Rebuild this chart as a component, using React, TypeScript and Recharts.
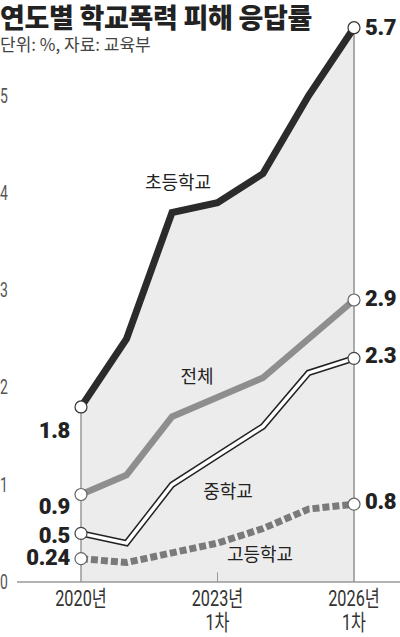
import React from 'react';
import { ComposedChart, Line, Area, XAxis, YAxis, ReferenceLine } from 'recharts';

const years = ['2020', '2021', '2022', '2023', '2024', '2025', '2026'];
const xTickLabels = ['2020년', '', '', '2023년|1차', '', '', '2026년|1차'];
const elementary = [1.8, 2.5, 3.8, 3.9, 4.2, 5.0, 5.7];
const overall = [0.9, 1.1, 1.7, 1.9, 2.1, 2.5, 2.9];
const middle = [0.5, 0.4, 1.0, 1.3, 1.6, 2.15, 2.3];
const high = [0.24, 0.2, 0.3, 0.4, 0.55, 0.75, 0.8];
const yTicks = [0, 1, 2, 3, 4, 5];

const data = years.map((y, i) => ({
  year: y,
  elementary: elementary[i],
  overall: overall[i],
  middle: middle[i],
  high: high[i],
}));

const KR = "'Noto Sans CJK KR', 'Noto Sans', sans-serif";
const COND = "Roboto, 'Noto Sans CJK KR', sans-serif";
const NUM = "Roboto, 'Liberation Sans', sans-serif";

const makeDot = (vals: number[], stroke: string, firstDy: number, lastDy: number) => (props: any) => {
  const { cx, cy, index } = props;
  const last = vals.length - 1;
  if (index !== 0 && index !== last) return <g key={`d${index}`} />;
  const isFirst = index === 0;
  return (
    <g key={`d${index}`}>
      <circle cx={cx} cy={cy} r={6} fill="#fff" stroke={stroke} strokeWidth={1.2} />
      <text
        x={isFirst ? cx - 11 : cx + 11}
        y={cy + (isFirst ? firstDy : lastDy)}
        textAnchor={isFirst ? 'end' : 'start'}
        dominantBaseline="central"
        fontFamily={NUM}
        fontWeight={900}
        fontSize={22}
        letterSpacing={-0.3}
        fill="#222"
      >
        {String(vals[index])}
      </text>
    </g>
  );
};

const YTick = (props: any) => {
  const { y, payload } = props;
  return (
    <text
      transform={`translate(0,${y}) scale(0.7,1)`}
      x={0}
      y={0}
      textAnchor="start"
      dominantBaseline="central"
      fontFamily={COND}
      fontSize={20}
      fill="#555"
    >
      {payload.value}
    </text>
  );
};

const XTick = (props: any) => {
  const { x, y, index } = props;
  const lbl = xTickLabels[index] || '';
  if (!lbl) return <g />;
  const lines = lbl.split('|');
  return (
    <g>
      {lines.map((l, i) => (
        <text
          key={i}
          transform={`translate(${x},${y + 9 + i * 24}) scale(0.74,1)`}
          x={0}
          y={0}
          textAnchor="middle"
          dominantBaseline="central"
          fontFamily={COND}
          fontSize={22}
          fill="#333"
        >
          {l}
        </text>
      ))}
    </g>
  );
};

export default function App() {
  return (
    <div style={{ position: 'absolute', left: 0, top: 0, width: 400, height: 637, background: '#fff', overflow: 'visible' }}>
      <div style={{ position: 'absolute', left: 0, top: 0 }}>
        <ComposedChart width={400} height={637} data={data} margin={{ top: 18, right: 0, bottom: 0, left: 0 }}>
          <XAxis
            dataKey="year"
            padding={{ left: 64, right: 46 }}
            height={55}
            interval={0}
            tickLine={false}
            axisLine={{ stroke: '#999', strokeWidth: 1.5 }}
            tick={<XTick />}
          />
          <YAxis
            width={17}
            domain={[0, 5.8]}
            ticks={yTicks}
            axisLine={false}
            tickLine={false}
            tick={<YTick />}
          />
          <Area dataKey="elementary" type="linear" fill="#ececec" fillOpacity={1} stroke="none" isAnimationActive={false} />
          <ReferenceLine segment={[{ x: years[0], y: 0 }, { x: years[0], y: elementary[0] }]} stroke="#999" strokeWidth={1.5} />
          <ReferenceLine segment={[{ x: years[6], y: 0 }, { x: years[6], y: elementary[6] }]} stroke="#aaa" strokeWidth={2} />
          <ReferenceLine segment={[{ x: years[3], y: 0 }, { x: years[3], y: 0.1 }]} stroke="#999" strokeWidth={1} />
          <Line dataKey="high" type="linear" stroke="#7a7a7a" strokeWidth={7} strokeDasharray="7 3" dot={makeDot(high, '#666', -1, -3)} isAnimationActive={false} />
          <Line dataKey="middle" type="linear" stroke="#222" strokeWidth={6.5} dot={false} isAnimationActive={false} />
          <Line dataKey="middle" type="linear" stroke="#fff" strokeWidth={3.5} dot={makeDot(middle, '#444', 2, -3)} isAnimationActive={false} />
          <Line dataKey="overall" type="linear" stroke="#8e8e8e" strokeWidth={6.5} dot={makeDot(overall, '#666', 12, -2)} isAnimationActive={false} />
          <Line dataKey="elementary" type="linear" stroke="#2b2b2b" strokeWidth={7} dot={makeDot(elementary, '#333', 24, 0)} isAnimationActive={false} />
        </ComposedChart>
      </div>
      <svg width={400} height={637} style={{ position: 'absolute', left: 0, top: 0, pointerEvents: 'none', overflow: 'visible' }}>
        <text x={0} y={28} fontFamily={KR} fontWeight={900} fontSize={27} fill="#222" letterSpacing={-0.3}>
          연도별 학교폭력 피해 응답률
        </text>
        <text x={0} y={51} fontFamily={KR} fontSize={17} fill="#444">
          단위: %, 자료: 교육부
        </text>
        <text x={178} y={181} textAnchor="middle" dominantBaseline="central" fontFamily={KR} fontSize={18} fill="#222">초등학교</text>
        <text x={197} y={375} textAnchor="middle" dominantBaseline="central" fontFamily={KR} fontSize={18} fill="#222">전체</text>
        <text x={228} y={490} textAnchor="middle" dominantBaseline="central" fontFamily={KR} fontSize={18} fill="#222">중학교</text>
        <text x={260} y={553} textAnchor="middle" dominantBaseline="central" fontFamily={KR} fontSize={18} fill="#222">고등학교</text>
      </svg>
    </div>
  );
}
